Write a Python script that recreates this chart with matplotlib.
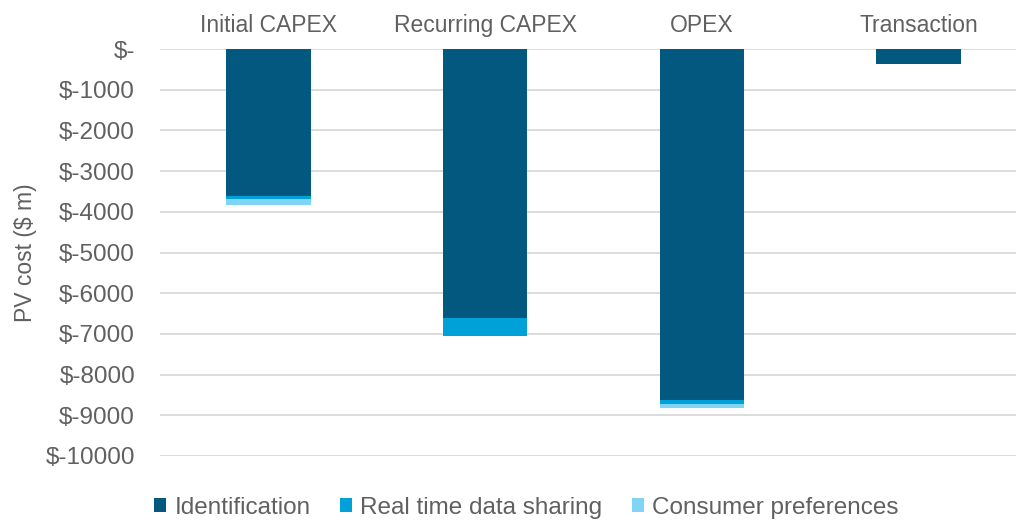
import matplotlib
matplotlib.use('Agg')
import matplotlib.pyplot as plt
import numpy as np

categories = ['Initial CAPEX', 'Recurring CAPEX', 'OPEX', 'Transaction']
identification = [-3600, -6600, -8620, -370]
realtime_sharing = [-90, -440, -100, 0]
consumer_prefs = [-150, 0, -100, 0]
series_names = ['Identification', 'Real time data sharing', 'Consumer preferences']
colors = ['#02587f', '#00a1d9', '#80d4f6']
yticks = list(range(0, -10001, -1000))

plt.rcParams['font.family'] = ['Liberation Sans', 'DejaVu Sans']
text_color = '#606060'

fig = plt.figure(figsize=(10.16, 5.23), dpi=100)
ax = fig.add_axes([160 / 1016, 1 - 456 / 523, 856 / 1016, (456 - 49) / 523])

x = np.arange(len(categories))
width = 0.39
bottom = np.zeros(len(categories))
for vals, name, col in zip([identification, realtime_sharing, consumer_prefs], series_names, colors):
    vals = np.array(vals, dtype=float)
    ax.bar(x, vals, width, bottom=bottom, color=col, label=name, zorder=3)
    bottom = bottom + vals

ax.set_xlim(-0.5, 3.45)
ax.set_ylim(-10000, 0)
ax.set_yticks(yticks)
ax.set_yticklabels(['$-' if v == 0 else '$%d' % v for v in yticks])
ax.yaxis.grid(True, color='#d9d9d9', linewidth=1.3, zorder=0)
ax.set_axisbelow(True)

ax.xaxis.tick_top()
ax.set_xticks(x)
ax.set_xticklabels(categories)
ax.tick_params(axis='both', length=0, colors=text_color)
ax.tick_params(axis='x', pad=9, labelsize=16.5)
ax.tick_params(axis='y', pad=18, labelsize=17.5)
for s in ax.spines.values():
    s.set_visible(False)

ax.set_ylabel('PV cost ($ m)', fontsize=16.5, color=text_color)
ax.yaxis.set_label_coords(-123 / 856, 0.5)

leg = fig.legend(loc='center', bbox_to_anchor=(0.518, 1 - 508 / 523), ncol=3, frameon=False,
                 fontsize=17.5, handlelength=0.5, handleheight=0.5, handletextpad=0.35,
                 columnspacing=1.2)
for t in leg.get_texts():
    t.set_color(text_color)

plt.savefig('out.png', dpi=100)
plt.close()
